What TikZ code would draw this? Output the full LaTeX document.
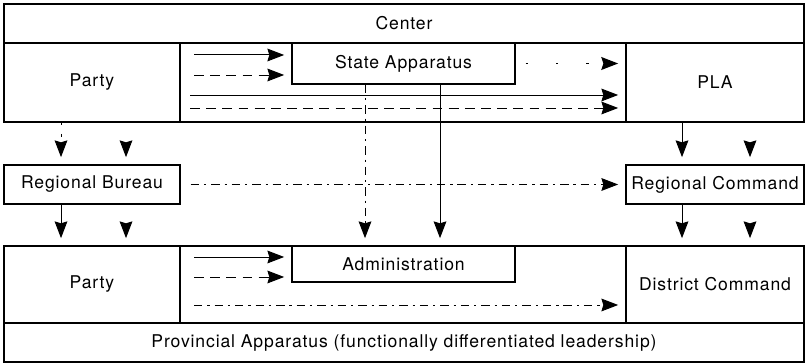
\documentclass[tikz,border=0pt]{standalone}
\usepackage{fontspec}
\setmainfont{TeX Gyre Heros}[LetterSpace=5]
\usetikzlibrary{arrows.meta,positioning}

\begin{document}
\begin{tikzpicture}[
  x=1cm,
  y=1cm,
  font=\fontsize{12.5}{14}\selectfont,
  cell/.style={draw, line width=0.9pt, inner sep=0pt, align=center},
  flow/.style={-{Stealth[length=4.2mm, width=3.2mm, inset=0.5mm]}, line width=0.7pt, shorten >=0.18cm},
  solidflow/.style={flow},
  dashflow/.style={flow, dash pattern=on 7pt off 4.5pt},
  dotflow/.style={flow, dash pattern=on 1.6pt off 20pt, line width=1.1pt},
  faintflow/.style={flow, dash pattern=on 2pt off 6pt},
  dashdotflow/.style={flow, dash pattern=on 6pt off 3.5pt on 1.6pt off 3.5pt},
  headonly/.style={flow, dash pattern=on 0pt off 20cm}
]
  \useasboundingbox (0,0) rectangle (20.2,9.1);

  % top level
  \node[cell, minimum width=20cm, minimum height=0.975cm] (center) at (10.1,8.5125) {Center};
  \node[cell, minimum width=4.4cm, minimum height=1.975cm] (partyU) at (2.3,7.0375) {Party};
  \node[cell, minimum width=11.15cm, minimum height=1.975cm] (midU) at (10.075,7.0375) {};
  \node[cell, minimum width=4.45cm, minimum height=1.975cm] (pla) at (17.875,7.0375) {PLA};
  \node[cell, minimum width=5.575cm, minimum height=1.025cm] (state) at (10.0875,7.5125) {State Apparatus};

  % regional level
  \node[cell, minimum width=4.4cm, minimum height=0.975cm] (bureau) at (2.3,4.4875) {Regional Bureau};
  \node[cell, minimum width=4.45cm, minimum height=0.975cm] (regcmd) at (17.875,4.4875) {Regional Command};

  % provincial level
  \node[cell, minimum width=4.4cm, minimum height=1.925cm] (partyL) at (2.3,1.9875) {Party};
  \node[cell, minimum width=11.15cm, minimum height=1.925cm] (midL) at (10.075,1.9875) {};
  \node[cell, minimum width=4.45cm, minimum height=1.925cm] (district) at (17.875,1.9875) {District Command};
  \node[cell, minimum width=5.575cm, minimum height=0.9cm] (admin) at (10.0875,2.5) {Administration};
  \node[cell, minimum width=20cm, minimum height=0.975cm] (prov) at (10.1,0.5375) {Provincial Apparatus (functionally differentiated leadership)};

  % start points and columns
  \coordinate (u1) at (4.85,7.725);
  \coordinate (u2) at (4.85,7.225);
  \coordinate (u3) at (4.75,6.725);
  \coordinate (u4) at (4.75,6.4);
  \coordinate (l1) at (4.85,2.675);
  \coordinate (l2) at (4.85,2.175);
  \coordinate (l3) at (4.85,1.475);
  \coordinate (xv1) at (9.125,0);
  \coordinate (xv2) at (11.0,0);
  \coordinate (xl) at (1.525,0);
  \coordinate (xr) at (3.15,0);
  \coordinate (xpl) at (17.05,0);
  \coordinate (xpr) at (18.75,0);

  \draw[solidflow] (u1) -- (u1 -| state.west);
  \draw[dashflow] (u2) -- (u2 -| state.west);
  \draw[dotflow] ([xshift=0.25cm]state.east) -- (state.east -| pla.west);
  \draw[solidflow] (u3) -- (u3 -| pla.west);
  \draw[dashflow] (u4) -- (u4 -| pla.west);

  \draw[solidflow] (l1) -- (l1 -| admin.west);
  \draw[dashflow] (l2) -- (l2 -| admin.west);
  \draw[dashdotflow] (l3) -- (l3 -| district.west);

  \draw[dashdotflow] ([xshift=0.25cm]bureau.east) -- (regcmd.west);
  \draw[dashdotflow] (xv1 |- state.south) -- (xv1 |- admin.north);
  \draw[solidflow] (xv2 |- state.south) -- (xv2 |- admin.north);

  \draw[faintflow] (xl |- partyU.south) -- (xl |- bureau.north);
  \draw[headonly] (xr |- partyU.south) -- (xr |- bureau.north);
  \draw[solidflow] (xl |- bureau.south) -- (xl |- partyL.north);
  \draw[headonly] (xr |- bureau.south) -- (xr |- partyL.north);

  \draw[solidflow] (xpl |- pla.south) -- (xpl |- regcmd.north);
  \draw[headonly] (xpr |- pla.south) -- (xpr |- regcmd.north);
  \draw[solidflow] (xpl |- regcmd.south) -- (xpl |- district.north);
  \draw[headonly] (xpr |- regcmd.south) -- (xpr |- district.north);
\end{tikzpicture}
\end{document}
